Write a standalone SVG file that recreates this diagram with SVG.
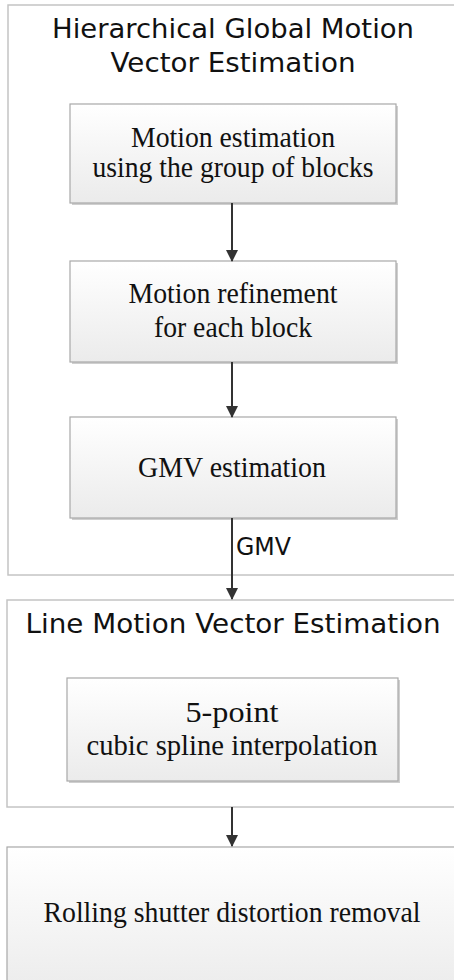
<svg xmlns="http://www.w3.org/2000/svg" width="454" height="980" viewBox="0 0 454 980">
<defs>
<linearGradient id="g" x1="0" y1="0" x2="0" y2="1">
<stop offset="0" stop-color="#ffffff"/>
<stop offset="1" stop-color="#ebebeb"/>
</linearGradient>
<marker id="ah" viewBox="0 0 12 12" refX="11" refY="6" markerWidth="12" markerHeight="12" markerUnits="userSpaceOnUse" orient="auto">
<path d="M0,0 L12,6 L0,12 Z" fill="#333"/>
</marker>
</defs>
<style>
.cont{fill:#fff;stroke:#c4c4c4;stroke-width:1.5}
.box{fill:url(#g);stroke:#a8a8a8;stroke-width:1.2}
.sh{fill:#cfcfcf}
.t{font-family:"DejaVu Sans","Verdana",sans-serif;font-size:27px;fill:#111;text-anchor:middle}
.s{font-family:"Liberation Serif","Times New Roman",serif;font-size:29px;fill:#111;text-anchor:middle}
.lbl{font-family:"DejaVu Sans","Verdana",sans-serif;font-size:24px;fill:#111}
.c{stroke:#333;stroke-width:2;fill:none;marker-end:url(#ah)}
</style>
<rect width="454" height="980" fill="#fff"/>
<g id="hgmve">
<rect class="cont" x="8" y="5" width="460" height="570"/>
<text class="t" x="233" y="38" textLength="362" lengthAdjust="spacingAndGlyphs">Hierarchical Global Motion</text>
<text class="t" x="233" y="72" textLength="245" lengthAdjust="spacingAndGlyphs">Vector Estimation</text>
</g>
<g id="box1">
<rect class="sh" x="72" y="106" width="326" height="99"/>
<rect class="box" x="70" y="104" width="326" height="99"/>
<text class="s" x="233" y="147" textLength="204" lengthAdjust="spacingAndGlyphs">Motion estimation</text>
<text class="s" x="233" y="177" textLength="281" lengthAdjust="spacingAndGlyphs">using the group of blocks</text>
</g>
<g id="box2">
<rect class="sh" x="72" y="263" width="326" height="101"/>
<rect class="box" x="70" y="261" width="326" height="101"/>
<text class="s" x="233" y="303" textLength="209" lengthAdjust="spacingAndGlyphs">Motion refinement</text>
<text class="s" x="233" y="337" textLength="158" lengthAdjust="spacingAndGlyphs">for each block</text>
</g>
<g id="box3">
<rect class="sh" x="72" y="419" width="326" height="101"/>
<rect class="box" x="70" y="417" width="326" height="101"/>
<text class="s" x="232" y="477" textLength="188" lengthAdjust="spacingAndGlyphs">GMV estimation</text>
</g>
<g id="lmve">
<rect class="cont" x="7" y="600" width="460" height="207"/>
<text class="t" x="233" y="633" textLength="415" lengthAdjust="spacingAndGlyphs">Line Motion Vector Estimation</text>
</g>
<g id="box4">
<rect class="sh" x="69" y="680" width="331" height="103"/>
<rect class="box" x="67" y="678" width="331" height="103"/>
<text class="s" x="232" y="722" textLength="93" lengthAdjust="spacingAndGlyphs">5-point</text>
<text class="s" x="232" y="755" textLength="291" lengthAdjust="spacingAndGlyphs">cubic spline interpolation</text>
</g>
<g id="box5">
<rect class="box" x="7" y="847" width="460" height="150" stroke="#c4c4c4" stroke-width="1.5"/>
<text class="s" x="232" y="922" textLength="377" lengthAdjust="spacingAndGlyphs">Rolling shutter distortion removal</text>
</g>
<g id="connectors">
<line class="c" x1="232" y1="203" x2="232" y2="261"/>
<line class="c" x1="232" y1="362" x2="232" y2="417"/>
<line class="c" x1="232" y1="518" x2="232" y2="599"/>
<line class="c" x1="232" y1="807" x2="232" y2="846"/>
<text class="lbl" x="236" y="555" textLength="55" lengthAdjust="spacingAndGlyphs">GMV</text>
</g>
</svg>
